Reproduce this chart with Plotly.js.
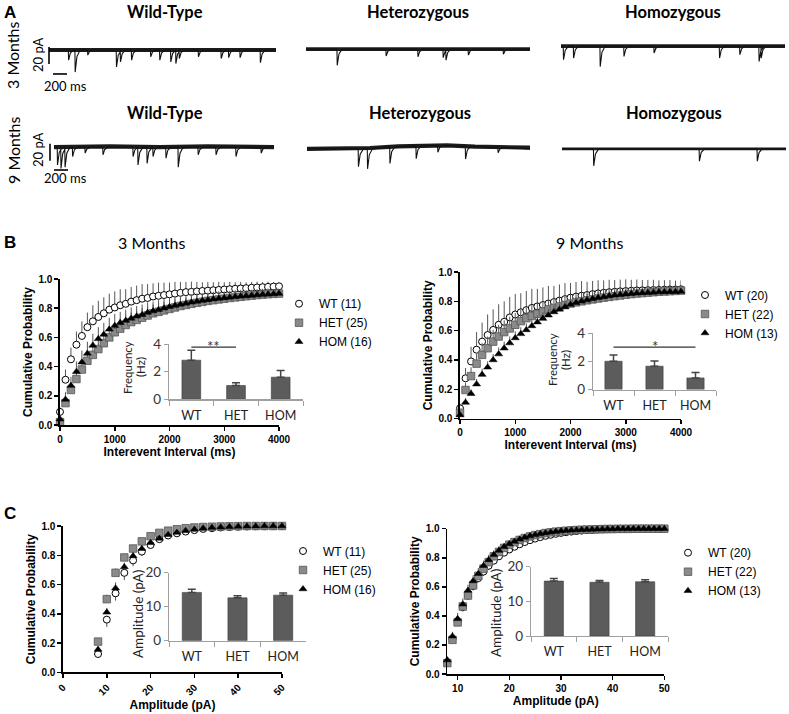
<!DOCTYPE html>
<html><head><meta charset="utf-8">
<script src="https://cdn.plot.ly/plotly-3.0.1.min.js"></script>
<style>html,body{margin:0;padding:0;background:#fff}#chart{width:789px;height:714px}</style>
</head><body><div id="chart"></div>
<script>
// ---------------- DATA ----------------
// Panel A: spontaneous events [time ms from trace start, amplitude pA, (local baseline pA)]
const SCALE_MS = 200, SCALE_PA = 20;
const evWT3  = [[280,12],[374,26],[554,6],[964,20],[1021,14],[1180,12],[1453,8],[1583,12],[1740,14],[1812,16],[1862,10],[2135,8],[2460,10],[2567,9],[2730,9],[3020,15]];
const evHET3 = [[446,19],[1145,8],[1600,9],[1960,10],[2000,13],[2320,7],[2820,6]];
const evHOM3 = [[36,16],[180,14],[560,24],[900,12],[1330,8],[2265,14],[2555,10],[2830,18],[2860,14]];
const evWT9  = [[50,21],[100,25],[158,23.5],[266,11],[445,7],[700,9],[1130,11],[1200,21],[1330,19],[1415,11],[1600,13],[1775,23.5],[2060,9],[2315,9],[2600,11],[2960,7]];
const evHET9 = [[735,21],[865,23.5],[1185,19.6,1.5],[1560,15,2.5],[1870,8,3],[2265,15,2],[2730,6,0.5]];
const evHOM9 = [[453,20],[1963,14.5],[2790,14.5]];
// baselines [time ms, pA]
const baseWT3  = [[0,0],[3243,0]];
const baseHET3 = [[0,1],[3200,1]];
const baseHOM3 = [[0,4.5],[3200,4.5]];
const baseWT9  = [[0,1],[800,2],[1500,1],[2200,2],[3143,1]];
const baseHET9 = [[0,-1],[900,0],[1300,2],[1700,3],[2000,3],[2400,1.5],[3186,0.5]];
const baseHOM9 = [[0,-1],[3200,-1]];

const groups = ['WT','HET','HOM'];
const legend3m = ['WT (11)','HET (25)','HOM (16)'];
const legend9m = ['WT (20)','HET (22)','HOM (13)'];

// Panel B: cumulative probability of inter-event interval
const iei = [0,100,200,300,400,500,600,700,800,900,1000,1100,1200,1300,1400,1500,1600,1700,1800,1900,2000,2100,2200,2300,2400,2500,2600,2700,2800,2900,3000,3100,3200,3300,3400,3500,3600,3700,3800,3900,4000];
const ieiWT3  = [0.09,0.31,0.45,0.55,0.61,0.67,0.71,0.74,0.765,0.79,0.805,0.82,0.83,0.845,0.855,0.865,0.87,0.88,0.885,0.89,0.895,0.9,0.905,0.91,0.912,0.915,0.918,0.92,0.923,0.925,0.928,0.93,0.933,0.935,0.937,0.94,0.942,0.944,0.946,0.948,0.95];
const ieiHET3 = [0.02,0.15,0.24,0.315,0.38,0.44,0.48,0.52,0.56,0.6,0.635,0.66,0.685,0.705,0.72,0.735,0.75,0.765,0.775,0.785,0.795,0.805,0.815,0.822,0.83,0.837,0.843,0.85,0.855,0.86,0.865,0.87,0.874,0.878,0.882,0.886,0.89,0.893,0.896,0.898,0.9];
const ieiHOM3 = [0.04,0.175,0.27,0.365,0.43,0.49,0.545,0.59,0.62,0.655,0.68,0.7,0.715,0.73,0.745,0.755,0.77,0.78,0.79,0.8,0.81,0.818,0.826,0.833,0.84,0.846,0.852,0.857,0.862,0.866,0.87,0.874,0.878,0.881,0.884,0.887,0.89,0.893,0.895,0.897,0.9];
const ieiWT3e  = [0.03,0.07,0.08,0.09,0.1,0.1,0.11,0.11,0.11,0.11,0.11,0.11,0.1,0.1,0.1,0.1,0.095,0.09,0.09,0.085,0.08,0.08,0.075,0.07,0.07,0.065,0.06,0.06,0.055,0.055,0.05,0.05,0.045,0.045,0.04,0.04,0.04,0.035,0.035,0.03,0.03];
const ieiHET3e = [0.02,0.04,0.05,0.05,0.06,0.06,0.06,0.07,0.07,0.07,0.07,0.07,0.07,0.065,0.065,0.065,0.06,0.06,0.06,0.06,0.055,0.055,0.055,0.05,0.05,0.05,0.05,0.045,0.045,0.045,0.04,0.04,0.04,0.04,0.035,0.035,0.035,0.035,0.03,0.03,0.03];
const ieiHOM3e = [0.02,0.05,0.06,0.07,0.08,0.08,0.08,0.08,0.08,0.08,0.08,0.075,0.075,0.075,0.07,0.07,0.07,0.065,0.065,0.065,0.06,0.06,0.06,0.055,0.055,0.055,0.05,0.05,0.05,0.05,0.045,0.045,0.045,0.045,0.04,0.04,0.04,0.04,0.04,0.035,0.035];
const ieiWT9  = [0.07,0.275,0.39,0.47,0.525,0.57,0.605,0.64,0.66,0.69,0.71,0.725,0.74,0.755,0.765,0.775,0.785,0.795,0.805,0.815,0.825,0.832,0.838,0.843,0.849,0.854,0.858,0.862,0.865,0.868,0.87,0.872,0.874,0.875,0.876,0.877,0.878,0.879,0.88,0.881,0.882];
const ieiHET9 = [0.04,0.195,0.29,0.375,0.435,0.48,0.525,0.56,0.59,0.615,0.64,0.665,0.685,0.7,0.715,0.73,0.745,0.755,0.765,0.775,0.785,0.793,0.8,0.807,0.813,0.819,0.825,0.83,0.835,0.84,0.845,0.849,0.853,0.856,0.859,0.862,0.865,0.867,0.869,0.871,0.873];
const ieiHOM9 = [0.025,0.11,0.17,0.235,0.3,0.35,0.4,0.44,0.48,0.515,0.55,0.578,0.605,0.632,0.658,0.682,0.705,0.727,0.745,0.762,0.778,0.79,0.8,0.809,0.817,0.824,0.83,0.836,0.841,0.845,0.849,0.852,0.855,0.857,0.859,0.861,0.863,0.864,0.865,0.866,0.867];
const ieiWT9e  = [0.03,0.07,0.1,0.12,0.13,0.14,0.14,0.14,0.14,0.14,0.14,0.13,0.13,0.13,0.12,0.12,0.12,0.11,0.11,0.11,0.1,0.1,0.1,0.09,0.09,0.09,0.085,0.085,0.08,0.08,0.08,0.075,0.075,0.07,0.07,0.07,0.065,0.065,0.065,0.06,0.06];
const ieiHET9e = [0.02,0.05,0.06,0.07,0.08,0.08,0.08,0.08,0.08,0.08,0.08,0.08,0.075,0.075,0.075,0.07,0.07,0.07,0.07,0.065,0.065,0.065,0.06,0.06,0.06,0.06,0.055,0.055,0.055,0.05,0.05,0.05,0.05,0.05,0.045,0.045,0.045,0.045,0.04,0.04,0.04];
const ieiHOM9e = [0.015,0.03,0.03,0.035,0.04,0.04,0.04,0.045,0.045,0.045,0.045,0.045,0.045,0.045,0.045,0.045,0.045,0.045,0.04,0.04,0.04,0.04,0.04,0.04,0.04,0.04,0.035,0.035,0.035,0.035,0.035,0.035,0.03,0.03,0.03,0.03,0.03,0.03,0.03,0.03,0.03];

// Panel C: cumulative probability of amplitude
const amp3x = [8,10,12,14,16,18,20,22,24,26,28,30,32,34,36,38,40,42,44,46,48,50];
const ampWT3  = [0.125,0.36,0.54,0.68,0.765,0.825,0.87,0.91,0.935,0.95,0.962,0.972,0.98,0.985,0.99,0.993,0.995,0.997,0.998,0.999,1,1];
const ampHET3 = [0.21,0.5,0.68,0.785,0.846,0.895,0.93,0.953,0.968,0.978,0.985,0.99,0.993,0.995,0.997,0.998,0.999,1,1,1,1,1];
const ampHOM3 = [0.155,0.41,0.575,0.72,0.795,0.845,0.885,0.915,0.94,0.955,0.968,0.977,0.984,0.989,0.992,0.995,0.997,0.998,0.999,1,1,1];
const ampWT3e  = [0.02,0.05,0.05,0.05,0.04,0.03,0.02,0.015,0.01,0.01,0.01,0.005,0.005,0.005,0.005,0,0,0,0,0,0,0];
const ampHET3e = [0.02,0.03,0.03,0.02,0.02,0.015,0.01,0.01,0.01,0.005,0.005,0.005,0,0,0,0,0,0,0,0,0,0];
const ampHOM3e = [0.02,0.03,0.04,0.03,0.025,0.02,0.015,0.01,0.01,0.01,0.005,0.005,0.005,0,0,0,0,0,0,0,0,0];
const amp9x = [8,9,10,11,12,13,14,15,16,17,18,19,20,21,22,23,24,25,26,27,28,29,30,31,32,33,34,35,36,37,38,39,40,41,42,43,44,45,46,47,48,49,50];
const ampWT9  = [0.08,0.24,0.36,0.46,0.54,0.605,0.66,0.705,0.745,0.78,0.81,0.835,0.857,0.876,0.893,0.908,0.921,0.932,0.942,0.951,0.958,0.965,0.971,0.976,0.98,0.984,0.987,0.99,0.992,0.994,0.995,0.996,0.997,0.998,0.998,0.999,0.999,1,1,1,1,1,1];
const ampHET9 = [0.075,0.235,0.355,0.465,0.54,0.61,0.675,0.725,0.77,0.81,0.84,0.868,0.89,0.908,0.923,0.936,0.947,0.956,0.963,0.97,0.975,0.98,0.983,0.986,0.989,0.991,0.993,0.994,0.995,0.996,0.997,0.998,0.998,0.999,0.999,0.999,1,1,1,1,1,1,1];
const ampHOM9 = [0.096,0.26,0.38,0.48,0.575,0.64,0.69,0.745,0.785,0.82,0.85,0.875,0.895,0.912,0.927,0.94,0.95,0.958,0.965,0.971,0.976,0.98,0.984,0.987,0.989,0.991,0.993,0.994,0.995,0.996,0.997,0.998,0.998,0.999,0.999,0.999,1,1,1,1,1,1,1];
const ampWT9e  = [0.01,0.02,0.03,0.03,0.03,0.03,0.03,0.03,0.03,0.025,0.025,0.02,0.02,0.02,0.02,0.015,0.015,0.015,0.01,0.01,0.01,0.01,0.01,0.01,0.005,0.005,0.005,0.005,0.005,0.005,0,0,0,0,0,0,0,0,0,0,0,0,0];
const ampHET9e = [0.01,0.02,0.03,0.03,0.035,0.035,0.035,0.035,0.03,0.03,0.03,0.025,0.025,0.02,0.02,0.02,0.015,0.015,0.015,0.01,0.01,0.01,0.01,0.01,0.005,0.005,0.005,0.005,0.005,0.005,0,0,0,0,0,0,0,0,0,0,0,0,0];
const ampHOM9e = [0.015,0.03,0.04,0.04,0.04,0.04,0.04,0.035,0.035,0.03,0.03,0.025,0.025,0.02,0.02,0.02,0.015,0.015,0.015,0.01,0.01,0.01,0.01,0.01,0.005,0.005,0.005,0.005,0.005,0.005,0,0,0,0,0,0,0,0,0,0,0,0,0];

// Insets (mean ± SEM)
const freq3 = [2.83,1.0,1.6],   freq3Err = [0.72,0.2,0.48];
const freq9 = [2.0,1.65,0.82],  freq9Err = [0.45,0.37,0.38];
const amp3  = [14.2,12.6,13.4], amp3Err  = [0.9,0.6,0.6];
const amp9  = [15.85,15.5,15.65], amp9Err = [0.75,0.55,0.6];

// ---------------- LAYOUT HELPERS ----------------
const W = 789, H = 714;
const ARIAL = '"Liberation Sans", Arial, sans-serif';
const CAL = 'Lato, "Open Sans", sans-serif';
const MS_PER_PX = 200/14, PX_PER_PA = 0.85;
const dom = (a,b) => [a/W, b/W];
const domY = (top,bot) => [1-bot/H, 1-top/H];

const traces = [];
const layout = {
  width: W, height: H, margin:{l:0,r:0,t:0,b:0},
  paper_bgcolor:'#fff', plot_bgcolor:'rgba(0,0,0,0)',
  showlegend: true, annotations: [], shapes: []
};

// ---- Panel A axes ----
const recs = [
  {ev:evWT3,  base:baseWT3,  px:[49,276],  row:1, bw:3.8},
  {ev:evHET3, base:baseHET3, px:[306,530], row:1, bw:3.8},
  {ev:evHOM3, base:baseHOM3, px:[561,785], row:1, bw:3.8},
  {ev:evWT9,  base:baseWT9,  px:[54,274],  row:2, bw:4.2},
  {ev:evHET9, base:baseHET9, px:[307,530], row:2, bw:4.2},
  {ev:evHOM9, base:baseHOM9, px:[562,786], row:2, bw:2.6}
];
const rowZero = {1:50, 2:148}, rowDom = {1:[25,95], 2:[120,190]};
[1,2].forEach(r=>{
  const key = r===1 ? 'yaxis' : 'yaxis2';
  const d = rowDom[r], z = rowZero[r];
  layout[key] = {domain: domY(d[0],d[1]), range:[-(d[1]-z)/PX_PER_PA, (z-d[0])/PX_PER_PA], visible:false, fixedrange:true, anchor: r===1?'x':'x4'};
});
recs.forEach((rc,i)=>{
  const n = i+1, xa = n===1?'x':'x'+n, ya = rc.row===1?'y':'y2';
  const L = (rc.px[1]-rc.px[0])*MS_PER_PX;
  layout[n===1?'xaxis':'xaxis'+n] = {domain: dom(rc.px[0],rc.px[1]), range:[0,L], visible:false, fixedrange:true, anchor: ya};
  traces.push({x:rc.base.map(p=>p[0]), y:rc.base.map(p=>p[1]), xaxis:xa, yaxis:ya, mode:'lines',
    line:{color:'#1c1c1c', width:rc.bw}, hoverinfo:'skip', showlegend:false});
  const lvl = rc.base[0][1], xs=[0], ys=[lvl];
  rc.ev.forEach(e=>{ const b = e.length>2 ? e[2] : lvl;
    xs.push(e[0]-4, e[0], e[0]+25, e[0]+70); ys.push(b, b-e[1], b-e[1]*0.3, b); });
  xs.push(L); ys.push(lvl);
  traces.push({x:xs, y:ys, xaxis:xa, yaxis:ya, mode:'lines', line:{color:'#111', width:1.1},
    hoverinfo:'skip', showlegend:false});
});
// scale bars
layout.shapes.push(
  {type:'line', xref:'paper', yref:'y', x0:49/W, x1:49/W, y0:3.5-SCALE_PA, y1:3.5, line:{color:'#000',width:1.6}},
  {type:'line', xref:'x', yref:'y', x0:57, x1:57+SCALE_MS, y0:-28.2, y1:-28.2, line:{color:'#000',width:1.6}},
  {type:'line', xref:'paper', yref:'y2', x0:50/W, x1:50/W, y0:5-SCALE_PA, y1:5, line:{color:'#000',width:1.6}},
  {type:'line', xref:'x4', yref:'y2', x0:0, x1:SCALE_MS, y0:-25.9, y1:-25.9, line:{color:'#000',width:1.6}}
);

// ---- Main & inset axes ----
function mainAxis(domain, range, anchor, title, tickfmt, extra){
  return Object.assign({domain, range, anchor, showline:true, linecolor:'#000', linewidth:1.6,
    ticks:'outside', ticklen:4, tickwidth:1.5, tickcolor:'#000', showgrid:false, zeroline:false, fixedrange:true,
    tickformat: tickfmt, tickfont:{family:ARIAL, size:10, color:'#000', weight:'bold'},
    title:{text:title, font:{family:ARIAL, size:12, color:'#000', weight:'bold'}, standoff:3}}, extra||{});
}
function insetY(domain, range, dtick, anchor){
  return {domain, range, dtick, anchor, showline:true, linecolor:'#a0a0a0', linewidth:1.2,
    ticks:'outside', ticklen:4, tickcolor:'#a0a0a0', showgrid:false, zeroline:false, fixedrange:true,
    tickfont:{family:CAL, size:13.5, color:'#333'}};
}
function insetX(domain, anchor){
  return {domain, range:[-0.5,2.5], type:'category', anchor, showline:true, linecolor:'#a0a0a0', linewidth:1.2,
    ticks:'outside', ticklen:5, tickcolor:'#a0a0a0', tickson:'boundaries', showgrid:false, zeroline:false,
    fixedrange:true, ticklabelstandoff:4, tickfont:{family:CAL, size:12.5, color:'#222'}};
}
// B left
layout.xaxis7 = mainAxis(dom(60,279), [0,4000], 'y3', 'Interevent Interval (ms)', 'd', {dtick:1000});
layout.yaxis3 = mainAxis(domY(279,425), [0,1], 'x7', 'Cumulative Probability', '.1f', {dtick:0.2});
layout.xaxis8 = insetX(dom(169,303), 'y4');
layout.yaxis4 = insetY(domY(344,399.3), [0,4], 2, 'x8');
// B right
layout.xaxis9 = mainAxis(dom(460,681), [0,4000], 'y5', 'Interevent Interval (ms)', 'd', {dtick:1000});
layout.yaxis5 = mainAxis(domY(272,418.6), [0,1], 'x9', 'Cumulative Probability', '.1f', {dtick:0.2});
layout.xaxis10 = insetX(dom(593,716), 'y6');
layout.yaxis6 = insetY(domY(333,389.5), [0,4], 2, 'x10');
// C left
layout.xaxis11 = mainAxis(dom(63,282), [0,50], 'y7', 'Amplitude (pA)', 'd', {dtick:10, tickangle:-45});
layout.yaxis7 = mainAxis(domY(526,672.3), [0,1], 'x11', 'Cumulative Probability', '.1f', {dtick:0.2});
layout.xaxis12 = insetX(dom(169,306), 'y8');
layout.yaxis8 = insetY(domY(572.7,640.7), [0,20], 10, 'x12');
// C right
layout.xaxis13 = mainAxis(dom(447.3,664.3), [8,50], 'y9', 'Amplitude (pA)', 'd', {tickmode:'array', tickvals:[10,20,30,40,50]});
layout.yaxis9 = mainAxis(domY(528.7,674), [0,1], 'x13', 'Cumulative Probability', '.1f', {dtick:0.2});
layout.xaxis14 = insetX(dom(531,668), 'y10');
layout.yaxis10 = insetY(domY(566.7,636), [0,20], 10, 'x14');

// legends
function leg(cx, cyMid){ return {x:(cx-20)/W, y:1-cyMid/H, xanchor:'left', yanchor:'middle',
  bgcolor:'rgba(0,0,0,0)', borderwidth:0, font:{family:ARIAL, size:12, color:'#000'}, itemwidth:30, tracegroupgap:0}; }
layout.legend  = leg(299, 322.7);
layout.legend2 = leg(705, 314);
layout.legend3 = leg(303, 570);
layout.legend4 = leg(688, 571.7);

const STY = [
  {symbol:'circle', size:7, color:'#fff', line:{color:'#000', width:1}},
  {symbol:'square', size:7.5, color:'#8a8a8a', line:{color:'#555', width:0.8}},
  {symbol:'triangle-up', size:7, color:'#000', line:{color:'#000', width:0.5}}
];
function cum(xv, ys, errs, dirs, names, xa, ya, lg){
  ys.forEach((y,i)=>{
    const e = errs[i], zero = e.map(()=>0);
    traces.push({type:'scatter', mode:'markers', x:xv, y:y, xaxis:xa, yaxis:ya, name:names[i], legend:lg,
      cliponaxis:false, marker:STY[i], hoverinfo:'skip',
      error_y:{type:'data', symmetric:false, array: dirs[i]==='up'?e:zero, arrayminus: dirs[i]==='up'?zero:e,
        color:'#555', thickness:1, width:0}});
  });
}
cum(iei, [ieiWT3,ieiHET3,ieiHOM3], [ieiWT3e,ieiHET3e,ieiHOM3e], ['up','up','up'], legend3m, 'x7','y3','legend');
cum(iei, [ieiWT9,ieiHET9,ieiHOM9], [ieiWT9e,ieiHET9e,ieiHOM9e], ['up','up','up'], legend9m, 'x9','y5','legend2');
cum(amp3x, [ampWT3,ampHET3,ampHOM3], [ampWT3e,ampHET3e,ampHOM3e], ['down','up','up'], legend3m, 'x11','y7','legend3');
cum(amp9x, [ampWT9,ampHET9,ampHOM9], [ampWT9e,ampHET9e,ampHOM9e], ['down','up','up'], legend9m, 'x13','y9','legend4');

function bars(vals, errs, xa, ya){
  traces.push({type:'bar', x:groups, y:vals, xaxis:xa, yaxis:ya, width:0.42, showlegend:false, hoverinfo:'skip',
    marker:{color:'#5c5c5c', line:{color:'#3c3c3c', width:0.6}},
    error_y:{type:'data', symmetric:false, array:errs, arrayminus:errs.map(()=>0), color:'#444', thickness:1.5, width:4}});
}
bars(freq3, freq3Err, 'x8', 'y4');
bars(freq9, freq9Err, 'x10', 'y6');
bars(amp3, amp3Err, 'x12', 'y8');
bars(amp9, amp9Err, 'x14', 'y10');

// significance
layout.shapes.push(
  {type:'line', xref:'x8', yref:'y4', x0:0, x1:1, y0:3.78, y1:3.78, line:{color:'#333', width:1.2}},
  {type:'line', xref:'x10', yref:'y6', x0:0, x1:2, y0:3.0, y1:3.0, line:{color:'#333', width:1.2}}
);
layout.annotations.push(
  {xref:'x8', yref:'y4', x:0.5, y:3.78, text:'**', showarrow:false, yanchor:'middle', yshift:1, font:{family:CAL, size:15, color:'#333'}},
  {xref:'x10', yref:'y6', x:1, y:3.0, text:'*', showarrow:false, yanchor:'middle', yshift:1, font:{family:CAL, size:15, color:'#333'}}
);

// texts
function T(x,y,text,font,extra){ return Object.assign({x:x/W, y:1-y/H, xref:'paper', yref:'paper', text, showarrow:false,
  font, xanchor:'center', yanchor:'middle'}, extra||{}); }
const fPanel = {family:ARIAL, size:17, color:'#000', weight:'bold'};
const fHead = {family:CAL, size:16.5, color:'#000', weight:'bold'};
const fMonth = {family:CAL, size:16, color:'#000'};
const fScale = {family:CAL, size:13, color:'#000'};
const fInset = {family:CAL, size:11.5, color:'#222'};
const fInsetA = {family:CAL, size:13.5, color:'#222'};
layout.annotations.push(
  T(10,12,'A',fPanel), T(10,242,'B',fPanel), T(10,513,'C',fPanel),
  T(165,12,'Wild-Type',fHead), T(418,12,'Heterozygous',fHead), T(673,12,'Homozygous',fHead),
  T(165,113,'Wild-Type',fHead), T(420,113,'Heterozygous',fHead), T(674,113,'Homozygous',fHead),
  T(13,55,'3 Months',fMonth,{textangle:-90}), T(13,150,'9 Months',fMonth,{textangle:-90}),
  T(38,55,'20 pA',fScale,{textangle:-90}), T(38,150,'20 pA',fScale,{textangle:-90}),
  T(65,86,'200 ms',fScale), T(65,178,'200 ms',fScale),
  T(152,242,'3 Months',fMonth), T(590,242,'9 Months',fMonth),
  T(128,367,'Frequency',fInset,{textangle:-90}), T(141,367,'(Hz)',fInset,{textangle:-90}),
  T(552,360,'Frequency',fInset,{textangle:-90}), T(565,360,'(Hz)',fInset,{textangle:-90}),
  T(138,614,'Amplitude (pA)',fInsetA,{textangle:-90}), T(496,613,'Amplitude (pA)',fInsetA,{textangle:-90})
);

Plotly.newPlot('chart', traces, layout, {staticPlot:true, displayModeBar:false});
</script></body></html>
